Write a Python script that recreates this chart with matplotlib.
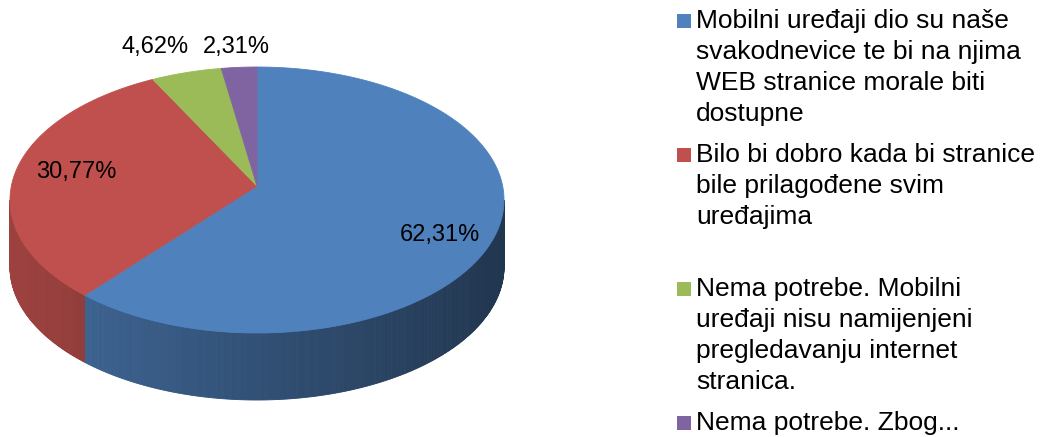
import numpy as np
import matplotlib.pyplot as plt
from matplotlib.patches import Polygon, Rectangle
from matplotlib.colors import to_rgb

# data
shares = [62.31, 30.77, 4.62, 2.31]
pct_labels = ["62,31%", "30,77%", "4,62%", "2,31%"]
legend_lines = [
    ["Mobilni uređaji dio su naše", "svakodnevice te bi na njima",
     "WEB stranice morale biti", "dostupne"],
    ["Bilo bi dobro kada bi stranice", "bile prilagođene svim", "uređajima"],
    ["Nema potrebe. Mobilni", "uređaji nisu namijenjeni",
     "pregledavanju internet", "stranica."],
    ["Nema potrebe. Zbog..."],
]
colors = ["#4F81BD", "#C0504D", "#9BBB59", "#8064A2"]

plt.rcParams["font.family"] = ["Liberation Sans", "DejaVu Sans"]

W, H = 1048, 437
fig = plt.figure(figsize=(W / 100, H / 100), dpi=100)
ax = fig.add_axes([0, 0, 1, 1])
ax.set_xlim(0, W)
ax.set_ylim(H, 0)
ax.axis("off")

# pie geometry (pixel space)
cx, cy = 257, 200
a, b = 247, 133
apex = (257, 186)
depth = 67


def rim(t):
    t = np.radians(t)
    return cx + a * np.cos(t), cy - b * np.sin(t)


frac = np.array(shares) / np.sum(shares)
edges = 90 - 360 * np.concatenate([[0], np.cumsum(frac)])

# side wall, drawn as thin strips for shading
for i in range(len(shares)):
    t0, t1 = edges[i + 1], edges[i]
    lo, hi = max(t0, -180), min(t1, 0)
    if lo >= hi:
        continue
    base = np.array(to_rgb(colors[i]))
    ts = np.linspace(lo, hi, int((hi - lo) * 2) + 2)
    for k in range(len(ts) - 1):
        seg = np.linspace(ts[k], ts[k + 1], 3)
        x, y = rim(seg)
        pts = list(zip(x, y)) + list(zip(x[::-1], y[::-1] + depth))
        tm = np.radians((ts[k] + ts[k + 1]) / 2)
        f = 0.62 + 0.2 * (-np.cos(tm))
        c = np.clip(base * f, 0, 1)
        ax.add_patch(Polygon(pts, closed=True, facecolor=c, edgecolor=c, lw=0.6))

# top face
for i in range(len(shares)):
    ts = np.linspace(edges[i], edges[i + 1], 200)
    x, y = rim(ts)
    pts = [apex] + list(zip(x, y))
    ax.add_patch(Polygon(pts, closed=True, facecolor=colors[i],
                         edgecolor=colors[i], lw=0.6))

# percentage labels
label_r = [0.8, 0.76, 1.2, 1.15]
label_shift = [(0, -5), (4, -11), (-17, 0), (0, 0)]
for i, txt in enumerate(pct_labels):
    tm = (edges[i] + edges[i + 1]) / 2
    t = np.radians(tm)
    x = cx + label_r[i] * a * np.cos(t) + label_shift[i][0]
    y = cy - label_r[i] * b * np.sin(t) + label_shift[i][1]
    ax.text(x, y, txt, ha="center", va="center", fontsize=17, color="black")

# legend
lx, ly0, entry_h, line_h = 677, 21, 134, 31
for i, lines in enumerate(legend_lines):
    y0 = ly0 + i * entry_h
    ax.add_patch(Rectangle((lx, y0 - 7), 14, 14, facecolor=colors[i], edgecolor="none"))
    for j, line in enumerate(lines):
        ax.text(lx + 19, y0 + j * line_h, line, ha="left", va="center",
                fontsize=19, color="black")

fig.savefig("out.png", dpi=100, facecolor="white")
